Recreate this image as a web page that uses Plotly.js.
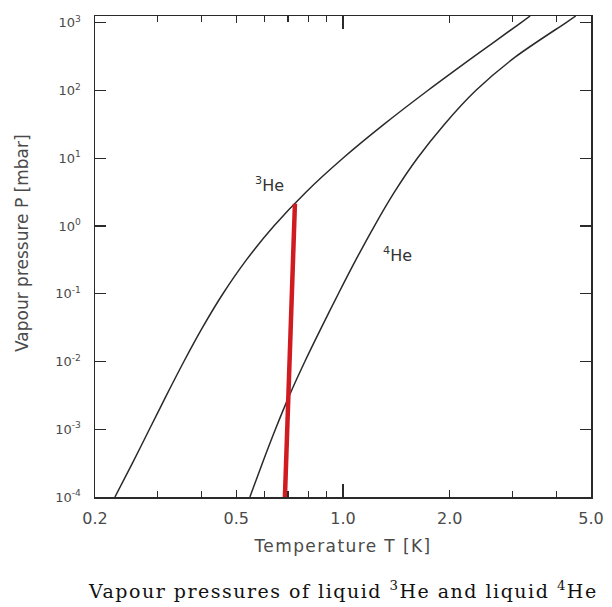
<!DOCTYPE html>
<html>
<head>
<meta charset="utf-8">
<script src="https://cdn.plot.ly/plotly-3.0.1.min.js"></script>
<style>html,body{margin:0;padding:0;background:#fff;}#chart{width:612px;height:607px;}</style>
</head>
<body>
<div id="chart"></div>
<script>
// Vapour pressure of liquid 3He (T in K, P in mbar)
const tempHe3 = [0.2276, 0.2550, 0.2847, 0.3179, 0.3561, 0.4016, 0.4587, 0.5343, 0.6385, 0.7861, 0.9991, 1.3035, 1.7338, 2.3370, 3.1696, 3.3685];
const presHe3 = [1e-4, 3.16e-4, 1e-3, 3.16e-3, 1e-2, 3.16e-2, 0.1, 0.316, 1, 3.16, 10, 31.6, 100, 316, 1000, 1259];
// Vapour pressure of liquid 4He
const tempHe4 = [0.5465, 0.5926, 0.6450, 0.7062, 0.7808, 0.8690, 0.9703, 1.0869, 1.2257, 1.3956, 1.6200, 1.9299, 2.3667, 3.0683, 4.2450, 4.5289];
const presHe4 = [1e-4, 3.16e-4, 1e-3, 3.16e-3, 1e-2, 3.16e-2, 0.1, 0.316, 1, 3.16, 10, 31.6, 100, 316, 1000, 1259];
// Red marker line
const redT = [0.686, 0.732];
const redP = [1e-4, 2.13];
// Tick labels
const xTickVals = [0.2, 0.5, 1.0, 2.0, 5.0];
const xTickText = ['0.2', '0.5', '1.0', '2.0', '5.0'];
const xMinorVals = [0.3, 0.4, 0.6, 0.7, 0.8, 0.9, 3, 4];
const yTickVals = [1e-4, 1e-3, 1e-2, 1e-1, 1e0, 1e1, 1e2, 1e3];
const yTickText = ['10<sup>-4</sup>', '10<sup>-3</sup>', '10<sup>-2</sup>', '10<sup>-1</sup>', '10<sup>0</sup>', '10<sup>1</sup>', '10<sup>2</sup>', '10<sup>3</sup>'];

const lineCol = '#2a2a2a';
const textCol = '#4a4a4a';
const sans = 'DejaVu Sans, Arial, sans-serif';

const traces = [
  {x: tempHe3, y: presHe3, type: 'scatter', mode: 'lines', line: {color: lineCol, width: 1.5, shape: 'spline', smoothing: 0.8}, hoverinfo: 'skip'},
  {x: tempHe4, y: presHe4, type: 'scatter', mode: 'lines', line: {color: lineCol, width: 1.5, shape: 'spline', smoothing: 0.8}, hoverinfo: 'skip'},
  {x: redT, y: redP, type: 'scatter', mode: 'lines', line: {color: 'rgb(208,28,32)', width: 4.5}, hoverinfo: 'skip'},
  {x: [1], y: [1e-4], xaxis: 'x2', type: 'scatter', mode: 'markers', marker: {opacity: 0}, hoverinfo: 'skip'}
];

const xr = [Math.log10(0.2), Math.log10(5)];
const layout = {
  width: 612, height: 607,
  margin: {l: 95, r: 21, t: 16, b: 110},
  paper_bgcolor: '#fff', plot_bgcolor: '#fff',
  showlegend: false,
  xaxis: {
    type: 'log', range: xr, tickmode: 'array', tickvals: xTickVals, ticktext: xTickText,
    ticks: 'inside', ticklen: 7, tickwidth: 1.2, tickcolor: lineCol,
    showline: true, linecolor: lineCol, linewidth: 1.5, mirror: 'ticks',
    showgrid: false, zeroline: false,
    tickfont: {family: sans, size: 16, color: textCol},
    ticklabelstandoff: 6,
    minor: {tickmode: 'array', tickvals: xMinorVals, ticks: 'inside', ticklen: 6, tickwidth: 1.2, tickcolor: lineCol, showgrid: false},
    title: {text: '<span style="letter-spacing:1.4px">Temperature T [K]</span>', font: {family: sans, size: 17, color: textCol}, standoff: 13}
  },
  xaxis2: {
    type: 'log', range: xr, overlaying: 'x', side: 'bottom', anchor: 'y',
    tickmode: 'array', tickvals: [1], ticks: 'inside', ticklen: 13, tickwidth: 1.2, tickcolor: lineCol,
    mirror: 'ticks', showline: false, showticklabels: false, showgrid: false, zeroline: false
  },
  yaxis: {
    type: 'log', range: [-4, 3.1], tickmode: 'array', tickvals: yTickVals, ticktext: yTickText,
    ticks: 'inside', ticklen: 11, tickwidth: 1.2, tickcolor: lineCol,
    showline: true, linecolor: lineCol, linewidth: 1.5, mirror: 'ticks',
    showgrid: false, zeroline: false,
    tickfont: {family: sans, size: 13, color: textCol},
    ticklabelstandoff: 10
  },
  annotations: [
    {x: -73 / 496, y: (497 - 243) / 481, xref: 'paper', yref: 'paper', xanchor: 'center', yanchor: 'middle',
     textangle: -90, text: 'Vapour pressure P [mbar]', showarrow: false,
     font: {family: sans, size: 17, color: textCol}},
    {x: Math.log10(0.622), y: 0.62, xref: 'x', yref: 'y', text: '<sup>3</sup>He', showarrow: false,
     font: {family: sans, size: 16, color: '#333'}},
    {x: Math.log10(1.427), y: -0.42, xref: 'x', yref: 'y', text: '<sup>4</sup>He', showarrow: false,
     font: {family: sans, size: 16, color: '#333'}},
    {x: (343 - 95) / 496, y: (497 - 590) / 481, xref: 'paper', yref: 'paper', xanchor: 'center', yanchor: 'middle',
     text: '<span style="letter-spacing:1.5px">Vapour pressures of liquid <sup>3</sup>He and liquid <sup>4</sup>He</span>', showarrow: false,
     font: {family: 'DejaVu Serif, Liberation Serif, serif', size: 19, color: '#111'}}
  ]
};

Plotly.newPlot('chart', traces, layout, {displayModeBar: false, staticPlot: true});
</script>
</body>
</html>
